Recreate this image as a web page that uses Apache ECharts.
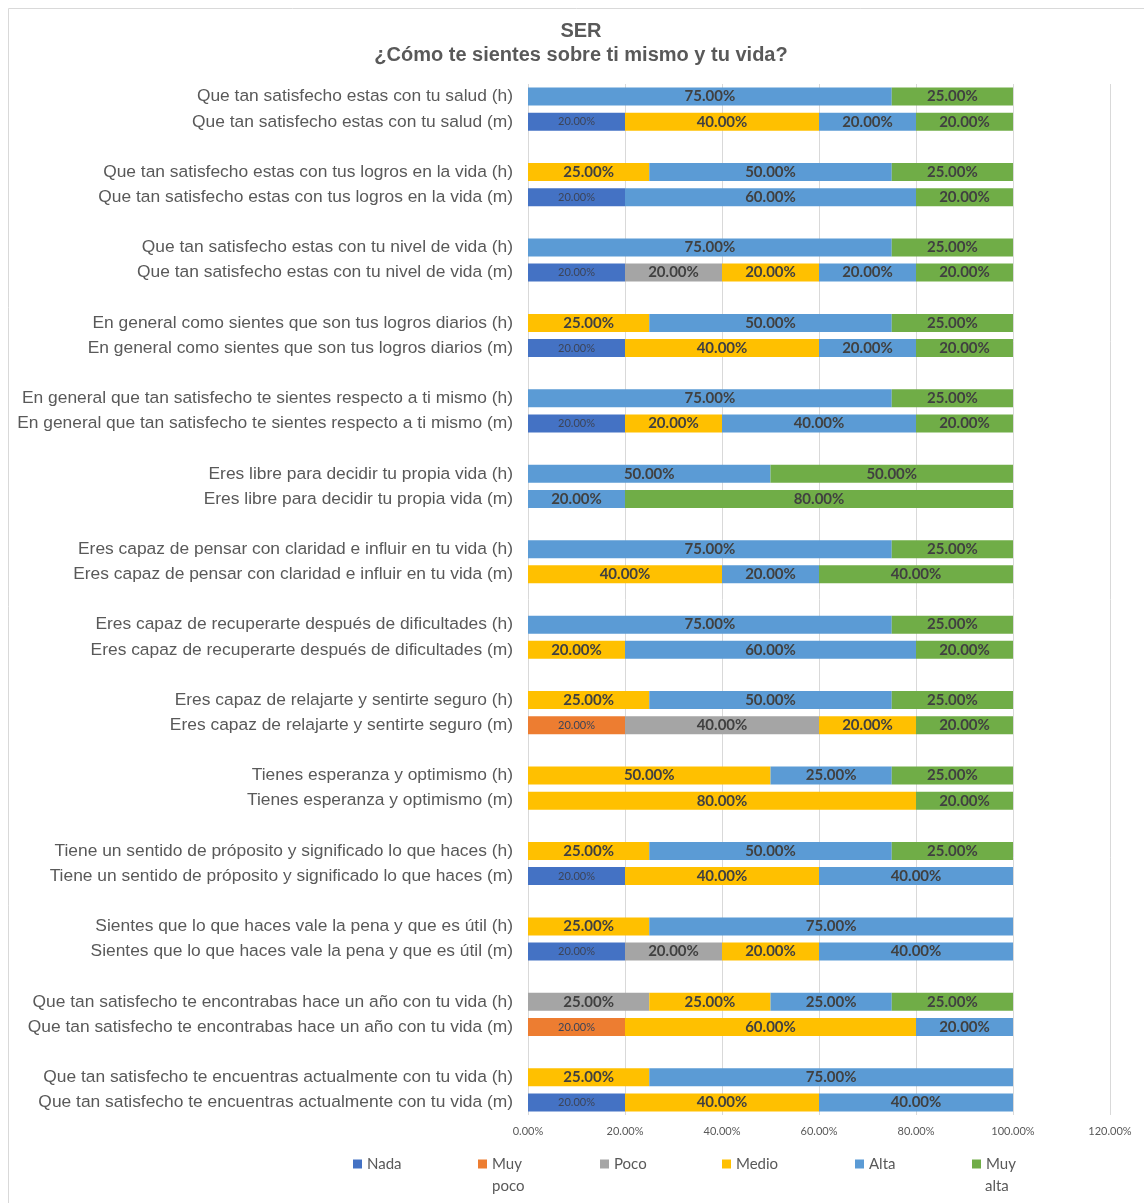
<!DOCTYPE html>
<html>
<head>
<meta charset="utf-8">
<script src="https://cdn.jsdelivr.net/npm/echarts@6/dist/echarts.min.js"></script>
<style>
  html, body { margin: 0; padding: 0; background: #fff; }
  #chart { width: 1144px; height: 1203px; }
</style>
</head>
<body>
<div id="chart"></div>
<script>
// preguntas (cada una tiene fila h y fila m)
var preguntas = [
  'Que tan satisfecho estas con tu salud',
  'Que tan satisfecho estas con tus logros en la vida',
  'Que tan satisfecho estas con tu nivel de vida',
  'En general como sientes que son tus logros diarios',
  'En general que tan satisfecho te sientes respecto a ti mismo',
  'Eres libre para decidir tu propia vida',
  'Eres capaz de pensar con claridad e influir en tu vida',
  'Eres capaz de recuperarte después de dificultades',
  'Eres capaz de relajarte y sentirte seguro',
  'Tienes esperanza y optimismo',
  'Tiene un sentido de próposito y significado lo que haces',
  'Sientes que lo que haces vale la pena y que es útil',
  'Que tan satisfecho te encontrabas hace un año con tu vida',
  'Que tan satisfecho te encuentras actualmente con tu vida'
];
var niveles = ['Nada', 'Muy poco', 'Poco', 'Medio', 'Alta', 'Muy alta'];
var colores = ['#4472C4', '#ED7D31', '#A5A5A5', '#FFC000', '#5B9BD5', '#70AD47'];

// porcentajes por fila: h, m, h, m ...
var nada     = [0,20, 0,20, 0,20, 0,20, 0,20, 0,0, 0,0, 0,0, 0,0,  0,0,  0,20, 0,20, 0,0,   0,20];
var muyPoco  = [0,0,  0,0,  0,0,  0,0,  0,0,  0,0, 0,0, 0,0, 0,20, 0,0,  0,0,  0,0,  0,20,  0,0];
var poco     = [0,0,  0,0,  0,20, 0,0,  0,0,  0,0, 0,0, 0,0, 0,40, 0,0,  0,0,  0,20, 25,0,  0,0];
var medio    = [0,40, 25,0, 0,20, 25,40, 0,20, 0,0, 0,40, 0,20, 25,20, 50,80, 25,40, 25,20, 25,60, 25,40];
var alta     = [75,20, 50,60, 75,20, 50,20, 75,40, 50,20, 75,20, 75,60, 50,0, 25,0, 50,40, 75,40, 25,20, 75,40];
var muyAlta  = [25,20, 25,20, 25,20, 25,20, 25,20, 50,80, 25,40, 25,20, 25,20, 25,20, 25,0, 0,0, 25,0, 0,0];
var valores = [nada, muyPoco, poco, medio, alta, muyAlta];

// categorias con hueco entre grupos
var categorias = [];
var filaIdx = [];
preguntas.forEach(function (p, i) {
  categorias.push(p + ' (h)'); filaIdx.push(2 * i);
  categorias.push(p + ' (m)'); filaIdx.push(2 * i + 1);
  if (i < preguntas.length - 1) {
    categorias.push(' '.repeat(i + 1)); filaIdx.push(-1);
  }
});

var series = niveles.map(function (n, s) {
  var pequeno = (s === 0 || s === 1);
  return {
    name: n,
    type: 'bar',
    stack: 'total',
    barWidth: 18,
    itemStyle: { color: colores[s] },
    label: {
      show: true,
      position: 'inside',
      fontFamily: 'Lato',
      fontSize: pequeno ? 11 : 15,
      fontWeight: pequeno ? 'normal' : 'bold',
      color: pequeno ? '#3c4458' : '#404040',
      formatter: function (p) { return p.value > 0 ? p.value.toFixed(2) + '%' : ''; }
    },
    data: filaIdx.map(function (k) { return k < 0 ? '-' : (valores[s][k] || '-'); })
  };
});

var legendFont = { fontFamily: 'Lato', fontSize: 15, fill: '#595959' };

var myChart = echarts.init(document.getElementById('chart'));
myChart.setOption({
  animation: false,
  color: colores,
  title: {
    text: 'SER\n¿Cómo te sientes sobre ti mismo y tu vida?',
    left: 576,
    textAlign: 'center',
    top: 14,
    textStyle: { fontFamily: 'Liberation Sans', fontSize: 20, fontWeight: 'bold', color: '#595959', lineHeight: 24 }
  },
  graphic: [
    {
      type: 'rect',
      shape: { x: 8.5, y: 8.5, width: 1140, height: 1200 },
      style: { fill: 'none', stroke: '#d9d9d9', lineWidth: 1 },
      silent: true
    },
    { type: 'text', left: 492, top: 1179, style: Object.assign({ text: 'poco' }, legendFont), silent: true },
    { type: 'text', left: 985, top: 1179, style: Object.assign({ text: 'alta' }, legendFont), silent: true }
  ],
  grid: { left: 528, right: 34, top: 84, height: 1031 },
  xAxis: {
    type: 'value',
    min: 0, max: 120, interval: 20,
    axisLine: { show: false },
    axisTick: { show: false },
    splitLine: { lineStyle: { color: '#d9d9d9', width: 1 } },
    axisLabel: {
      fontFamily: 'Lato', fontSize: 11, color: '#595959', margin: 11,
      formatter: function (v) { return v.toFixed(2) + '%'; }
    }
  },
  yAxis: {
    type: 'category',
    inverse: true,
    data: categorias,
    axisLine: { show: false },
    axisTick: { show: false },
    axisLabel: { fontFamily: 'Liberation Sans', fontSize: 17.4, color: '#595959', margin: 15, interval: 0 }
  },
  legend: {
    left: 353,
    top: 1153,
    padding: 0,
    itemWidth: 9,
    itemHeight: 9,
    itemGap: 0,
    icon: 'rect',
    textStyle: { fontFamily: 'Lato', fontSize: 15, color: '#595959', lineHeight: 22 },
    data: [
      { name: 'Nada', textStyle: { width: 111 } },
      { name: 'Muy poco', textStyle: { width: 108 } },
      { name: 'Poco', textStyle: { width: 108 } },
      { name: 'Medio', textStyle: { width: 119 } },
      { name: 'Alta', textStyle: { width: 103 } },
      { name: 'Muy alta', textStyle: { width: 50 } }
    ],
    formatter: function (name) { return name.indexOf('Muy ') === 0 ? 'Muy' : name; }
  },
  series: series
});
window.addEventListener('resize', function () { myChart.resize(); });
</script>
</body>
</html>
